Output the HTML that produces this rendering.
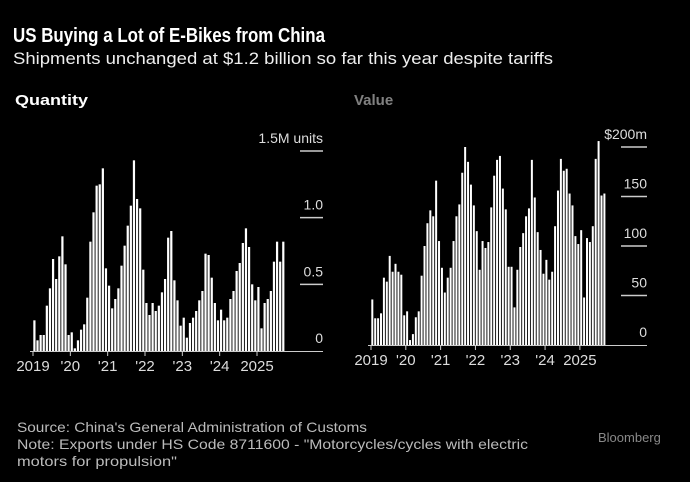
<!DOCTYPE html>
<html><head><meta charset="utf-8"><style>
html,body{margin:0;padding:0;background:#000;}
svg{display:block;font-family:"Liberation Sans",sans-serif;}
</style></head><body>
<svg id="root" width="690" height="482" viewBox="0 0 690 482">
<rect width="690" height="482" fill="#000"/>
<text x="13" y="42" fill="#fff" font-size="20" font-weight="bold" textLength="312" lengthAdjust="spacingAndGlyphs">US Buying a Lot of E-Bikes from China</text>
<text x="13" y="64" fill="#eee" font-size="17" textLength="540" lengthAdjust="spacingAndGlyphs">Shipments unchanged at $1.2 billion so far this year despite tariffs</text>
<text x="15" y="105" fill="#fff" font-size="15" font-weight="bold" textLength="73" lengthAdjust="spacingAndGlyphs">Quantity</text>
<text x="354" y="105" fill="#fff" font-size="15" font-weight="bold" opacity="0.5">Value</text>
<g id="left"></g>
<g id="right"></g>
<text x="17" y="432" fill="#bbb" font-size="14" textLength="350" lengthAdjust="spacingAndGlyphs">Source: China's General Administration of Customs</text>
<text x="17" y="449" fill="#bbb" font-size="14" textLength="511" lengthAdjust="spacingAndGlyphs">Note: Exports under HS Code 8711600 - "Motorcycles/cycles with electric</text>
<text x="17" y="466" fill="#bbb" font-size="14" textLength="160" lengthAdjust="spacingAndGlyphs">motors for propulsion"</text>
<text x="598" y="442" fill="#888" font-size="13">Bloomberg</text>
</svg>
<script>
const years=["2019","'20","'21","'22","'23","'24","2025"];
const qty=[0.23,0.08,0.12,0.12,0.34,0.47,0.69,0.54,0.71,0.86,0.65,0.12,
0.14,0.02,0.08,0.16,0.2,0.4,0.82,1.04,1.24,1.25,1.37,0.62,
0.49,0.32,0.39,0.47,0.64,0.79,0.94,1.09,1.43,1.14,1.07,0.61,
0.36,0.27,0.36,0.30,0.34,0.44,0.54,0.85,0.9,0.53,0.38,0.19,
0.25,0.1,0.21,0.25,0.30,0.38,0.45,0.73,0.72,0.55,0.36,0.23,
0.31,0.23,0.25,0.39,0.45,0.6,0.66,0.81,0.92,0.78,0.5,0.38,
0.48,0.17,0.36,0.39,0.45,0.67,0.82,0.67,0.82];
const val=[46,27,27,32,68,64,90,74,82,74,71,30,
34,5,11,28,34,70,100,123,136,130,166,105,
78,53,68,78,105,130,142,174,200,185,162,141,
115,76,105,98,104,139,171,187,191,158,137,79,
79,38,76,99,113,130,138,187,149,114,96,72,
86,66,74,120,156,188,176,178,153,141,110,102,
116,48,108,104,120,188,206,151,153];
const qtyTicks=[0,0.5,1.0,1.5];
const qtyTickLabels=["0","0.5","1.0","1.5M units"];
const valTicks=[0,50,100,150,200];
const valTickLabels=["0","50","100","150","$200m"];
const NS="http://www.w3.org/2000/svg";
function mk(g,t,a){const e=document.createElementNS(NS,t);for(const k in a)e.setAttribute(k,a[k]);g.appendChild(e);return e;}
function draw(g,data,ticks,labels,cfg,prefix){
  const n=data.length, step=(cfg.x1-cfg.x0)/n;
  const y=v=>cfg.base-(v/cfg.max)*(cfg.base-cfg.top);
  ticks.forEach((t,i)=>{
    const yy=y(t);
    if(i>0){const l=mk(g,'line',{x1:cfg.tx0,x2:cfg.tx1,y1:yy,y2:yy,stroke:'#ccc','stroke-width':1.5});
    
    }
    const tx=mk(g,'text',{x:cfg.tx1,y:yy-8,fill:'#ddd','font-size':14,'text-anchor':'end'});
    tx.textContent=labels[i];
    
    
  });
  data.forEach((v,i)=>{
    const r=mk(g,'rect',{x:cfg.x0+i*step+0.3,y:y(v),width:step-0.9,height:cfg.base-y(v),fill:'#fff'});
    
    
  });
  const b=mk(g,'line',{x1:cfg.x0-3,x2:cfg.tx1,y1:cfg.base+0.5,y2:cfg.base+0.5,stroke:'#ccc','stroke-width':1});
  
  
  years.forEach((yr,i)=>{
    const xx=cfg.x0+i*12*step;
    const tk=mk(g,'line',{x1:xx,x2:xx,y1:cfg.base,y2:cfg.base+5,stroke:'#ccc','stroke-width':1});
    
    
    const t=mk(g,'text',{x:xx,y:cfg.base+20,fill:'#ddd','font-size':15,'text-anchor':'middle'});
    t.textContent=yr;
    
    
  });
}
draw(document.getElementById('left'),qty,qtyTicks,qtyTickLabels,{x0:33,x1:285,base:351,top:151,max:1.5,tx0:300,tx1:323},'qty');
draw(document.getElementById('right'),val,valTicks,valTickLabels,{x0:371,x1:606,base:345,top:147,max:200,tx0:621,tx1:647},'val');
</script>
</body></html>
